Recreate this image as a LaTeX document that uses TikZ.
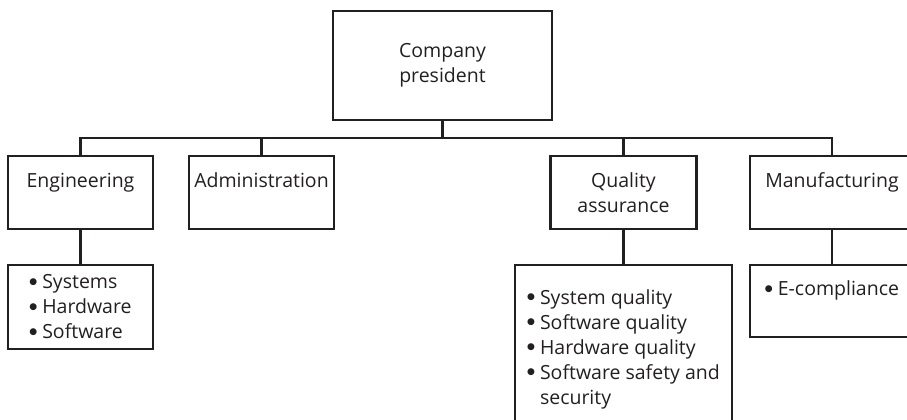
\documentclass[tikz,border=0pt]{standalone}
\usepackage{fontspec}
\setmainfont{Open Sans}
\newfontfamily\symfont{DejaVu Sans}
\usepackage{tikz}
\definecolor{ink}{HTML}{231F20}
\newcommand\blt{\raisebox{4.5pt}{\symfont\fontsize{9}{9}\selectfont ●}\hspace{5pt}}
\tikzset{
  unit/.style={draw=ink, line width=2.8pt, text=ink, inner sep=0pt,
    align=center, font=\fontsize{19.5}{25}\selectfont},
  sub/.style={unit, align=left},
  wire/.style={draw=ink, line width=2.8pt}
}

\begin{document}
\begin{tikzpicture}[x=1pt, y=-1pt]
\clip (0,0) rectangle (907,420);
\useasboundingbox (0,0) rectangle (907,420);

% top
\node[unit, minimum width=219pt, minimum height=109pt] (pres) at (442.5,65.5)
  {Company\\president};

% departments
\node[unit, minimum width=145pt, minimum height=73pt] (eng) at (80.5,192.5)
  {Engineering\\~};
\node[unit, minimum width=145pt, minimum height=73pt] (adm) at (261.5,192.5)
  {Administration\\~};
\node[unit, minimum width=146pt, minimum height=73pt] (qa) at (623.5,192.5)
  {Quality\\assurance};
\node[unit, minimum width=164pt, minimum height=73pt] (mfg) at (832,192.5)
  {Manufacturing\\~};

% groups
\node[sub, minimum width=145pt, minimum height=84pt] (engsub) at (80.5,307)
  {\blt Systems\\\blt Hardware\\\blt Software};
\node[sub, minimum width=217pt, minimum height=168pt] (qasub) at (623.5,349)
  {\blt System quality\\\blt Software quality\\\blt Hardware quality\\
   \blt Software safety and\\\phantom{\blt}security};
\node[sub, minimum width=164pt, minimum height=72pt] (mfgsub) at (832,301)
  {\blt E-compliance\\~};

\coordinate (bus) at (0,138);

\draw[wire] (pres.south) -- (pres.south |- bus) -| (eng.north);
\draw[wire] (pres.south) -- (pres.south |- bus) -| (adm.north);
\draw[wire] (pres.south) -- (pres.south |- bus) -| (qa.north);
\draw[wire] (pres.south) -- (pres.south |- bus) -| (mfg.north);

\draw[wire] (eng.south) -- (engsub.north);
\draw[wire] (qa.south) -- (qasub.north);
\draw[wire] (mfg.south) -- (mfgsub.north);
\end{tikzpicture}
\end{document}
